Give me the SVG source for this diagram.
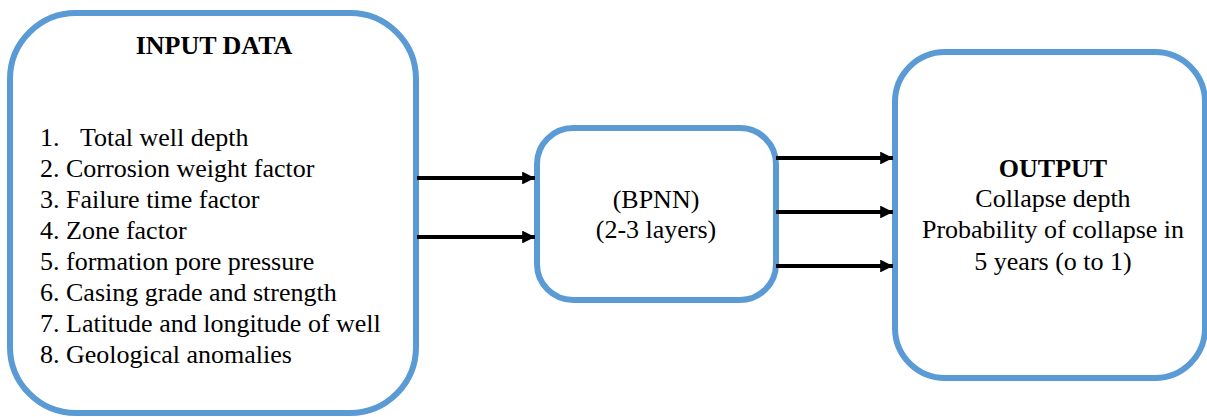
<svg xmlns="http://www.w3.org/2000/svg" width="1207" height="417" viewBox="0 0 1207 417" font-family="Liberation Serif, Times New Roman, serif">
  <style>
    text { font-family: "Liberation Serif", "Times New Roman", serif; font-size: 26px; fill: #000000; }
    .box { fill: #ffffff; stroke: #5B9BD5; stroke-width: 6; }
    .link { stroke: #000000; stroke-width: 4; fill: none; }
  </style>
  <defs>
    <marker id="arrow" viewBox="0 0 10 10" refX="10" refY="5" markerWidth="3.4" markerHeight="3.2" markerUnits="strokeWidth" orient="auto">
      <path d="M0,0 L10,5 L0,10 Z" fill="#000000"/>
    </marker>
  </defs>
  <rect width="1207" height="417" fill="#ffffff"/>

  <g id="input-data">
    <rect class="box" x="10" y="13" width="406" height="400" rx="66" ry="66"/>
    <text x="214" y="54" font-weight="bold" text-anchor="middle">INPUT DATA</text>
    <text x="40" y="146">1.<tspan x="80">Total well depth</tspan></text>
    <text x="40" y="177">2. Corrosion weight factor</text>
    <text x="40" y="208">3. Failure time factor</text>
    <text x="40" y="239">4. Zone factor</text>
    <text x="40" y="270">5. formation pore pressure</text>
    <text x="40" y="301">6. Casing grade and strength</text>
    <text x="40" y="332">7. Latitude and longitude of well</text>
    <text x="40" y="363">8. Geological anomalies</text>
  </g>

  <g id="bpnn">
    <rect class="box" x="537" y="128" width="239" height="172" rx="36" ry="36"/>
    <text x="656" y="208" text-anchor="middle">(BPNN)</text>
    <text x="656" y="238" text-anchor="middle">(2-3 layers)</text>
  </g>

  <g id="output">
    <rect class="box" x="895" y="52" width="310" height="326" rx="50" ry="50"/>
    <text x="1053" y="177" font-weight="bold" text-anchor="middle">OUTPUT</text>
    <text x="1053" y="207" text-anchor="middle">Collapse depth</text>
    <text x="1053" y="238" text-anchor="middle">Probability of collapse in</text>
    <text x="1053" y="270" text-anchor="middle">5 years (o to 1)</text>
  </g>

  <g id="connectors">
    <line class="link" x1="417" y1="178" x2="535" y2="178" marker-end="url(#arrow)"/>
    <line class="link" x1="417" y1="237" x2="535" y2="237" marker-end="url(#arrow)"/>
    <line class="link" x1="776" y1="158" x2="893" y2="158" marker-end="url(#arrow)"/>
    <line class="link" x1="776" y1="212" x2="893" y2="212" marker-end="url(#arrow)"/>
    <line class="link" x1="776" y1="266" x2="893" y2="266" marker-end="url(#arrow)"/>
  </g>
</svg>
